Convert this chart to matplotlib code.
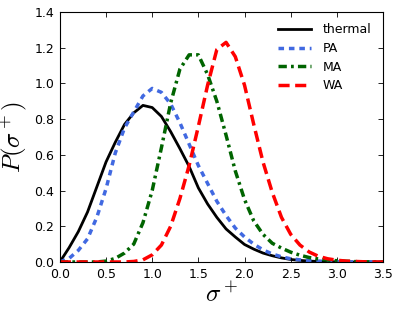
import numpy as np
import matplotlib
matplotlib.use("Agg")
import matplotlib.pyplot as plt

plt.rcParams['mathtext.fontset'] = 'cm'
plt.rcParams['font.family'] = ['DejaVu Sans']

x = np.round(np.arange(0, 3.51, 0.1), 2)

thermal = [0.0, 0.08, 0.17, 0.28, 0.42, 0.56, 0.67, 0.77, 0.835, 0.877,
           0.865, 0.815, 0.73, 0.635, 0.535, 0.415, 0.325, 0.25, 0.185, 0.14,
           0.098, 0.072, 0.05, 0.035, 0.023, 0.014, 0.009, 0.005, 0.003, 0.002,
           0.001, 0.0, 0.0, 0.0, 0.0, 0.0]
pa = [0.0, 0.02, 0.065, 0.13, 0.25, 0.41, 0.61, 0.75, 0.84, 0.93,
      0.972, 0.95, 0.885, 0.78, 0.66, 0.54, 0.44, 0.34, 0.26, 0.19,
      0.14, 0.10, 0.068, 0.045, 0.029, 0.018, 0.012, 0.008, 0.005, 0.003,
      0.002, 0.001, 0.0, 0.0, 0.0, 0.0]
ma = [0.0, 0.0, 0.0, 0.0, 0.0, 0.005, 0.02, 0.05, 0.10, 0.22,
      0.40, 0.64, 0.89, 1.08, 1.16, 1.16, 1.05, 0.90, 0.71, 0.51,
      0.35, 0.23, 0.155, 0.105, 0.078, 0.055, 0.038, 0.025, 0.017, 0.011,
      0.007, 0.004, 0.002, 0.001, 0.0, 0.0]
wa = [0.0, 0.0, 0.0, 0.0, 0.0, 0.0, 0.0, 0.0, 0.003, 0.012,
      0.04, 0.095, 0.20, 0.355, 0.54, 0.76, 0.99, 1.19, 1.23, 1.15,
      0.99, 0.77, 0.56, 0.39, 0.25, 0.155, 0.095, 0.056, 0.032, 0.018,
      0.01, 0.005, 0.003, 0.001, 0.0, 0.0]

labels = ['thermal', 'PA', 'MA', 'WA']
colors = ['black', 'royalblue', '#006400', 'red']

fig = plt.figure(figsize=(3.99, 3.11), dpi=100)
ax = fig.add_axes([0.150, 0.1576, 0.810, 0.8038])

ax.plot(x, thermal, color=colors[0], lw=2, label=labels[0])
ax.plot(x, pa, color=colors[1], lw=2.5, dashes=(1.6, 1.4), label=labels[1])
ax.plot(x, ma, color=colors[2], lw=2.5, dashes=(2.4, 1.2, 0.8, 1.2), label=labels[2])
ax.plot(x, wa, color=colors[3], lw=2.5, dashes=(3.2, 1.6), label=labels[3])

ax.set_xlim(0, 3.5)
ax.set_ylim(0, 1.4)
ax.set_xticks(np.arange(0, 3.51, 0.5))
ax.set_yticks(np.arange(0, 1.41, 0.2))
ax.tick_params(direction='in', top=True, right=True, labelsize=9, length=3.5, width=0.6, pad=4)
for s in ax.spines.values():
    s.set_linewidth(0.8)

ax.set_xlabel(r'$\sigma^+$', fontsize=18, labelpad=2)
ax.set_ylabel(r'$P(\sigma^+)$', fontsize=18)
ax.yaxis.set_label_coords(-0.095, 0.5)

ax.legend(loc='upper right', frameon=False, fontsize=9, handlelength=2.6,
          handletextpad=1.0, labelspacing=0.45)

fig.savefig('out.png', dpi=100)
